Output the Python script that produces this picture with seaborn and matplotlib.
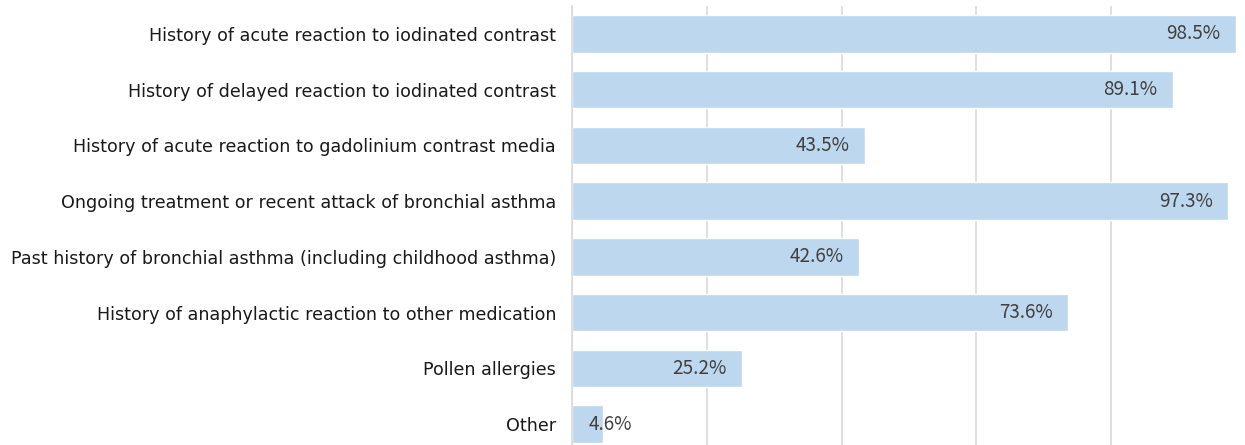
import matplotlib
matplotlib.use("Agg")
import matplotlib.pyplot as plt
import seaborn as sns
import pandas as pd

categories = [
    "History of acute reaction to iodinated contrast",
    "History of delayed reaction to iodinated contrast",
    "History of acute reaction to gadolinium contrast media",
    "Ongoing treatment or recent attack of bronchial asthma",
    "Past history of bronchial asthma (including childhood asthma)",
    "History of anaphylactic reaction to other medication",
    "Pollen allergies",
    "Other",
]
values = [98.5, 89.1, 43.5, 97.3, 42.6, 73.6, 25.2, 4.6]
value_labels = ["98.5%", "89.1%", "43.5%", "97.3%", "42.6%", "73.6%", "25.2%", "4.6%"]

sns.set_theme(style="white")
plt.rcParams["font.family"] = ["DejaVu Sans"]

df = pd.DataFrame({"category": categories, "value": values})

W, H = 1245, 445
fig = plt.figure(figsize=(W / 100, H / 100), dpi=100)
left, right, top, bottom = 572, 1246, 6, 452
ax = fig.add_axes([left / W, (H - bottom) / H, (right - left) / W, (bottom - top) / H])

sns.barplot(data=df, x="value", y="category", color="#BDD7EE", saturation=1,
            width=0.67, ax=ax, orient="h")

ax.set_xlim(0, 100)
ax.set_xticks([0, 20, 40, 60, 80, 100])
ax.xaxis.grid(True, color="#D9D9D9", linewidth=1.2)
ax.set_axisbelow(True)
ax.tick_params(axis="x", length=0, labelbottom=False)
ax.tick_params(axis="y", length=0, pad=11.5, labelsize=12.6, labelcolor="#1a1a1a")
ax.set_xlabel("")
ax.set_ylabel("")
for s in ["top", "right", "bottom"]:
    ax.spines[s].set_visible(False)
ax.spines["left"].set_color("#D9D9D9")
ax.spines["left"].set_linewidth(1.2)

label_font = dict(fontsize=13.6, color="#404040", family="Noto Sans CJK JP")
for i, (v, lab) in enumerate(zip(values, value_labels)):
    if v < 10:
        ax.annotate(lab, (0, i), xytext=(12, 0), textcoords="offset points",
                    ha="left", va="center", **label_font)
    else:
        ax.annotate(lab, (v, i), xytext=(-11, 0), textcoords="offset points",
                    ha="right", va="center", **label_font)

fig.savefig("out.png", dpi=100)
